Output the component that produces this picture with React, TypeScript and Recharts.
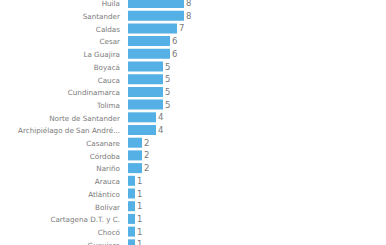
import { BarChart, Bar, XAxis, YAxis, LabelList } from 'recharts';

const departments = [
  'Huila',
  'Santander',
  'Caldas',
  'Cesar',
  'La Guajira',
  'Boyacá',
  'Cauca',
  'Cundinamarca',
  'Tolima',
  'Norte de Santander',
  'Archipiélago de San Andrés, Providencia y Santa Catalina',
  'Casanare',
  'Córdoba',
  'Nariño',
  'Arauca',
  'Atlántico',
  'Bolívar',
  'Cartagena D.T. y C.',
  'Chocó',
  'Guaviare',
];
const counts = [8, 8, 7, 6, 6, 5, 5, 5, 5, 4, 4, 2, 2, 2, 1, 1, 1, 1, 1, 1];

const data = departments.map((name, i) => ({ name, value: counts[i] }));

const shorten = (s: string) => (s.length > 25 ? s.slice(0, 25) + '...' : s);

const FONT = 'DejaVu Sans';

function DeptTick({ x, y, payload }: any) {
  return (
    <text x={x} y={y} dy={3} textAnchor="end" fontSize={7.2} fill="#7a7a7a" fontFamily={FONT}>
      {shorten(payload.value)}
    </text>
  );
}

export default function App() {
  return (
    <div style={{ position: 'absolute', left: 0, top: 0, width: 386, height: 245, overflow: 'hidden', background: '#fff' }}>
      <div style={{ position: 'absolute', left: 0, top: -3 }}>
        <BarChart
          width={386}
          height={254}
          data={data}
          layout="vertical"
          margin={{ top: 0, right: 202, bottom: 0, left: 0 }}
          barSize={10}
        >
          <XAxis type="number" domain={[0, 8]} hide />
          <YAxis
            type="category"
            dataKey="name"
            width={128}
            interval={0}
            tickLine={false}
            axisLine={false}
            tick={<DeptTick />}
          />
          <Bar dataKey="value" fill="#55b0e6" isAnimationActive={false}>
            <LabelList dataKey="value" position="right" offset={2} style={{ fontSize: 8.5, fill: '#7a7a7a', fontFamily: FONT }} />
          </Bar>
        </BarChart>
      </div>
    </div>
  );
}
